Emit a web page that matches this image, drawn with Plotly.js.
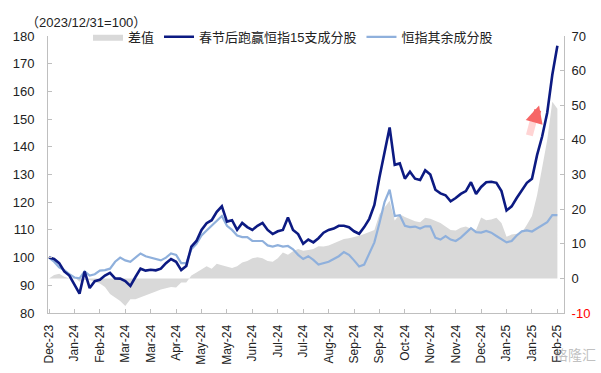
<!DOCTYPE html>
<html>
<head>
<meta charset="utf-8">
<script src="https://cdn.plot.ly/plotly-3.0.1.min.js"></script>
<style>html,body{margin:0;padding:0;background:#fff;}#chart{width:601px;height:373px;}</style>
</head>
<body>
<div id="chart"></div>
<script>
// X tick labels (one every 5 sample points)
var tickLabels = ["Dec-23","Jan-24","Feb-24","Mar-24","Mar-24","Apr-24","May-24","May-24","Jun-24","Jul-24","Jul-24","Aug-24","Sep-24","Sep-24","Oct-24","Nov-24","Nov-24","Dec-24","Jan-25","Jan-25","Feb-25"];

// 春节后跑赢恒指15支成分股 (left axis, 2023/12/31=100)
var top15 = [100,99.5,98,95,93.5,90,87,95,89,91.5,
  92,93.5,94.5,92.5,92.4,91.5,89.8,93,96,95.3,
  95.6,95.4,96,98,99.5,98.5,95.5,97,104,106,
  110,112.4,113.5,116.5,118.5,113,113.5,110,112.5,111,
  110,111.5,112.5,110,108.5,109.5,110,114.5,110,108.5,
  105,106.5,105.5,107,109,110,110.5,111.5,111.5,111,
  109.5,108.6,111,114,119,129,138,147,133.5,134,
  128.5,131,128.5,128,131.5,130,124.5,123.2,122.5,120.3,
  121.5,123,124,127.2,123,125.5,127.2,127.4,127,124,
  117,118.5,121.5,124.5,127,128.5,137,143.7,152.3,166,
  176.5];

// 恒指其余成分股 (left axis)
var others = [100,98.5,96.5,95.5,94,92.8,92.5,95,93.5,94,
  95.3,95.5,96,98.5,100,99,98.5,100,101.5,100.5,
  100,99.5,99,100,101.5,101,98,98,103,105,
  108,109.8,111.5,113.5,115,111.5,110,108,107.4,107.4,
  106,106,106,104.4,104,104.5,104,104.2,103,101,
  99.5,100.5,99.2,97.5,98,98.5,99.5,100.5,102,101,
  99,96.8,97.5,101.5,105.5,112.5,120,124.5,115,115.3,
  111.5,111,111.2,110.5,111.3,111.3,107.2,106.5,107.8,106.5,
  106,107.2,109,110.6,109.2,109,109.6,109,107.8,106.8,
  105.5,106,108,109.5,109.8,109.4,110.5,111.5,112.8,115.3,
  115.3];

// 差值 (right axis)
var spread = [0,1,1.3,0.5,0,0.3,-1,-0.5,-0.5,-1,
  -1.5,-2.5,-4.5,-5.5,-6.5,-8,-6,-6,-5.5,-5,
  -4.5,-3.8,-3.2,-2.8,-2.5,-2.6,-1.2,-1.2,0.8,1.7,
  2.7,3.5,2.8,4.2,3.8,3.3,3,3.5,4.6,5,
  5.8,6.1,5.8,5,4.8,5.8,7.5,6.8,7.8,8.5,
  8,8.2,8.5,9.3,9.2,9.5,10.2,10.8,11.4,11.6,
  11.9,12.3,12.8,13.3,14,18.5,20.6,22.4,16.7,18.5,
  17.7,17,16.5,16.2,17.5,17.2,16.5,16,15,14,
  13.8,14.6,15,14.3,14,17.6,16.8,17,17.5,16,
  12,12.7,12.9,13.2,15.5,18,24,31.5,40,51,
  49];

var idx = top15.map(function(_, i){ return i; });
var tickVals = tickLabels.map(function(_, i){ return i * 5; });

var rightVals = [-10,0,10,20,30,40,50,60,70];
var rightText = rightVals.map(function(v){ return v === -10 ? '<span style="color:#ff0000">-10</span>' : String(v); });

var FONT = 'Liberation Sans, Arial, Noto Sans CJK SC, sans-serif';

var traces = [
  {x: idx, y: spread, name: '差值', type: 'scatter', mode: 'lines', fill: 'tozeroy',
   fillcolor: '#d9d9d9', line: {width: 0, color: '#d9d9d9'}, yaxis: 'y', legendrank: 1, hoverinfo: 'skip'},
  {x: idx, y: others, name: '恒指其余成分股', type: 'scatter', mode: 'lines',
   line: {width: 2.2, color: '#8fb0dc'}, yaxis: 'y2', legendrank: 3},
  {x: idx, y: top15, name: '春节后跑赢恒指15支成分股', type: 'scatter', mode: 'lines',
   line: {width: 2.6, color: '#0c1a82'}, yaxis: 'y2', legendrank: 2}
];

var axisCol = '#bfbfbf';
var layout = {
  width: 601, height: 373,
  margin: {l: 48, r: 37, t: 36, b: 60, pad: 0},
  paper_bgcolor: '#ffffff', plot_bgcolor: '#ffffff',
  font: {family: FONT, size: 13, color: '#222'},
  showlegend: true,
  legend: {orientation: 'h', x: 0.0775, xanchor: 'left', y: 0.997, yanchor: 'middle',
    bgcolor: 'rgba(0,0,0,0)', font: {family: FONT, size: 13, color: '#222'}, traceorder: 'normal'},
  xaxis: {range: [-0.2, 101.3], tickmode: 'array', tickvals: tickVals, ticktext: tickLabels,
    tickangle: -90, ticks: 'inside', ticklen: 4, tickcolor: axisCol, showline: true, linecolor: axisCol,
    linewidth: 1, showgrid: false, zeroline: false, tickfont: {size: 12, color: '#222'}, ticklabelstandoff: 6},
  yaxis: {side: 'right', range: [-10, 70], tickmode: 'array', tickvals: rightVals, ticktext: rightText,
    ticks: 'inside', ticklen: 4, tickcolor: axisCol, showline: true, linecolor: axisCol, showgrid: false,
    zeroline: false, tickfont: {size: 13, color: '#222'}, ticklabelstandoff: 4},
  yaxis2: {side: 'left', overlaying: 'y', range: [80, 180], dtick: 10, tick0: 80,
    ticks: 'inside', ticklen: 4, tickcolor: axisCol, showline: true, linecolor: axisCol, showgrid: false,
    zeroline: false, tickfont: {size: 13, color: '#222'}, ticklabelstandoff: 10},
  annotations: [
    {xref: 'paper', yref: 'paper', x: -0.046, y: 1.048, xanchor: 'left', yanchor: 'middle',
     text: '（2023/12/31=100）', showarrow: false, font: {family: FONT, size: 13, color: '#222'}},
    {xref: 'x', yref: 'y', x: 95.2, y: 45.2, ax: -4, ay: 15, text: '', showarrow: true,
     arrowhead: 0, arrowwidth: 7, arrowcolor: 'rgba(255,185,185,0.6)'},
    {xref: 'x', yref: 'y', x: 96.4, y: 49.9, ax: -5, ay: 17, text: '', showarrow: true,
     arrowhead: 2, arrowsize: 0.5, arrowwidth: 7, arrowcolor: 'rgba(245,75,75,0.85)'},
    {xref: 'paper', yref: 'paper', x: 1.066, y: -0.152, xanchor: 'right', yanchor: 'middle',
     text: '格隆汇', showarrow: false, font: {family: FONT, size: 14, color: 'rgba(140,140,140,0.55)'}}
  ]
};

Plotly.newPlot('chart', traces, layout, {staticPlot: true, displayModeBar: false});
</script>
</body>
</html>
